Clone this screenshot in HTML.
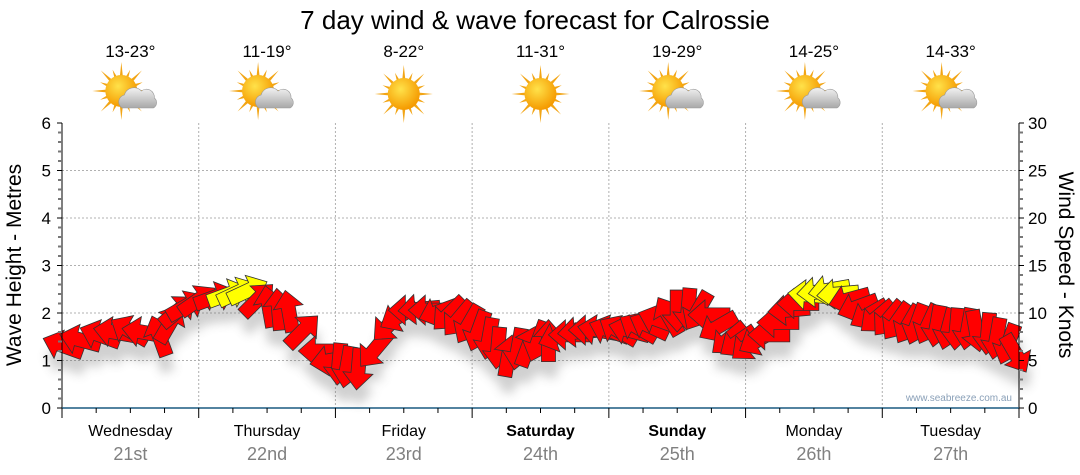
<!DOCTYPE html>
<html><head><meta charset="utf-8"><style>
body{margin:0;background:#fff;width:1080px;height:475px;overflow:hidden;font-family:"Liberation Sans","DejaVu Sans",sans-serif}
svg{display:block}
</style></head><body>
<svg id="chart" width="1080" height="475" xmlns="http://www.w3.org/2000/svg">
<defs>
<filter id="shadow" x="-50%" y="-50%" width="200%" height="200%"><feGaussianBlur stdDeviation="5"/></filter>
<radialGradient id="sunG" cx="40%" cy="35%" r="65%"><stop offset="0" stop-color="#ffe24a"/><stop offset="1" stop-color="#f59a00"/></radialGradient>
<linearGradient id="cloudG" x1="0" y1="0" x2="0" y2="1"><stop offset="0" stop-color="#f2f2f2"/><stop offset="1" stop-color="#a8a8a8"/></linearGradient>
</defs>
<text x="535" y="29" font-size="26" text-anchor="middle" fill="#000">7 day wind &amp; wave forecast for Calrossie</text>
<g id="grid"></g>
<g id="shadows" filter="url(#shadow)" opacity="0.3"></g>
<g id="arrows"></g>
<g id="axes"></g>
<g id="icons"></g>
<text x="1012" y="401" font-size="10" text-anchor="end" fill="#8aa0b8">www.seabreeze.com.au</text>
<text transform="translate(21,265) rotate(-90)" font-size="21" text-anchor="middle">Wave Height - Metres</text>
<text transform="translate(1059,265) rotate(90)" font-size="21" text-anchor="middle">Wind Speed - Knots</text>
</svg>
<script>
const dayNames=["Wednesday","Thursday","Friday","Saturday","Sunday","Monday","Tuesday"];
const dayDates=["21st","22nd","23rd","24th","25th","26th","27th"];
const dayBold=[false,false,false,true,true,false,false];
const temps=["13-23°","11-19°","8-22°","11-31°","19-29°","14-25°","14-33°"];
const cloudy=[true,true,false,false,true,true,true];
const waveTicks=[0,1,2,3,4,5,6];
const knotTicks=[0,5,10,15,20,25,30];
const windHours=[0,3,6.5,9,11.7,14,17,19,20.5,22,24,27,29.3,31,32.8,34.5,36.3,38,39.8,42.4,45,47,48.6,50,52,54.7,57.3,59,60.8,62.5,64.3,66,67.8,69.5,71.3,73,74.9,76.5,78.4,80,81.9,83.5,85.4,87,88.9,90.5,92.4,94,95.9,97.5,99.4,101,102.9,104.5,106.4,108,109.9,111.5,113.4,115,116.9,118.5,120.4,122,123.9,125.5,127.4,129,130.9,132.5,134.5,136,138,139.5,141.5,143,145,146.5,148.5,150,152,153.5,155.5,157,159,160.5,162.5,164,166,167.5];
const windSpeed=[6.6,7.2,7.7,8.0,8.2,8.0,7.7,9.0,10.3,10.8,11.4,11.7,12.0,12.2,12.4,11.5,10.8,10.5,10.3,8.2,6.0,5.0,4.5,4.2,4.0,6.0,8.7,9.6,10.3,10.4,10.3,10.1,9.8,9.3,8.7,8.0,7.2,6.2,5.6,6.1,6.6,6.9,7.2,7.5,7.7,8.0,8.2,8.2,8.2,8.2,8.2,8.5,8.7,9.3,9.8,10.1,10.3,10.1,9.8,8.5,7.2,6.9,6.6,7.1,7.7,9.0,10.3,11.0,11.9,12.2,12.4,12.0,11.4,10.6,9.8,9.5,9.3,9.0,8.7,8.7,8.7,8.5,8.2,8.2,8.2,8.0,7.7,7.2,6.6,5.6];
const windDir=[-160,-165,-160,-170,-150,-170,-110,-60,-40,-30,-35,-20,-20,-25,-25,-45,-100,-95,-100,-45,180,170,95,100,95,130,135,150,180,175,180,160,135,130,120,110,100,95,-80,100,-70,110,-90,160,180,175,180,-170,-160,-150,-165,-150,-155,-160,-120,90,95,120,180,150,140,145,140,150,180,180,175,180,185,175,170,175,165,160,150,140,130,125,120,110,115,100,105,95,100,80,95,100,110,60];

const X0=62,X1=1019,Y0=408,Y1=123;
const xs=h=>X0+(X1-X0)*h/168;
const yWave=m=>Y0-(Y0-Y1)*m/6;
const yKnot=k=>Y0-(Y0-Y1)*k/30;
const NS="http://www.w3.org/2000/svg";
function mk(tag,attrs,parent,txt){const e=document.createElementNS(NS,tag);for(const k in attrs)e.setAttribute(k,attrs[k]);if(txt!==undefined)e.textContent=txt;parent.appendChild(e);return e;}
const grid=document.getElementById('grid'),axes=document.getElementById('axes'),arrows=document.getElementById('arrows'),shadows=document.getElementById('shadows'),icons=document.getElementById('icons');

waveTicks.forEach(t=>{if(t>0&&t<6){const l=mk('line',{x1:X0,x2:X1,y1:yWave(t),y2:yWave(t),stroke:'#b0b0b0','stroke-dasharray':'2,2'},grid);

}});
for(let d=1;d<7;d++){const l=mk('line',{x1:xs(d*24),x2:xs(d*24),y1:Y1,y2:Y0,stroke:'#b0b0b0','stroke-dasharray':'2,2'},grid);

}

mk('line',{x1:X0,x2:X0,y1:Y1,y2:Y0,stroke:'#000'},axes);
mk('line',{x1:X1,x2:X1,y1:Y1,y2:Y0,stroke:'#000'},axes);
for(let i=0;i<=30;i++){const y=Y0-(Y0-Y1)*i/30;const major=i%5==0;
mk('line',{x1:X0-(major?5:4),x2:X0,y1:y,y2:y,stroke:major?'#000':'#777','stroke-width':major?1:2},axes);
mk('line',{x1:X1,x2:X1+(major?5:4),y1:y,y2:y,stroke:major?'#000':'#777','stroke-width':major?1:2},axes);}
waveTicks.forEach(t=>{const e=mk('text',{x:X0-11,y:yWave(t)+6,'font-size':17,'text-anchor':'end'},axes,t);

});
knotTicks.forEach(t=>{const e=mk('text',{x:X1+9,y:yKnot(t)+6,'font-size':17},axes,t);

});
mk('line',{x1:X0,x2:X1,y1:Y0,y2:Y0,stroke:'#1a5a80','stroke-width':1.5},axes);
for(let h=0;h<=168;h+=6){mk('line',{x1:xs(h),x2:xs(h),y1:Y0,y2:Y0+(h%24==0?10:5),stroke:'#000'},axes);}
dayNames.forEach((n,i)=>{const cx=xs(i*24+12);
const a=mk('text',{x:cx,y:436,'font-size':16,'text-anchor':'middle','font-weight':dayBold[i]?'bold':'normal'},axes,n);


const b=mk('text',{x:cx,y:460,'font-size':18,'text-anchor':'middle',fill:'#808080'},axes,dayDates[i]);


const t=mk('text',{x:cx,y:57,'font-size':17,'text-anchor':'middle'},icons,temps[i]);


const g=mk('g',{},icons);


const sx=cloudy[i]?cx-9:cx, sy=cloudy[i]?91:94;
for(let r=0;r<16;r++){const ang=r*Math.PI/8;const L=r%2?23:29;
mk('polygon',{points:`${sx+Math.cos(ang)*L},${sy+Math.sin(ang)*L} ${sx+Math.cos(ang+0.13)*13},${sy+Math.sin(ang+0.13)*13} ${sx+Math.cos(ang-0.13)*13},${sy+Math.sin(ang-0.13)*13}`,fill:'#f2a515'},g);}
mk('circle',{cx:sx,cy:sy,r:16,fill:'url(#sunG)'},g);
if(cloudy[i]){mk('path',{d:`M${cx-8},${sy+17} a7,7 0 0 1 2,-13 a10,10 0 0 1 17,-4 a8,8 0 0 1 13,7 a6,6 0 0 1 -1,10 z`,fill:'url(#cloudG)',stroke:'#999','stroke-width':0.6},g);}
});

function arrowPts(){return [[-22,-7],[3,-7],[3,-15],[20,0],[3,15],[3,7],[-22,7]].map(p=>p.join(',')).join(' ');}
windHours.forEach((h,i)=>{const x=xs(h),y=yKnot(windSpeed[i]),a=windDir[i];
mk('polygon',{points:arrowPts(),transform:`translate(${x+2},${y+16}) rotate(${a})`,fill:'#666'},shadows);
const p=mk('polygon',{points:arrowPts(),transform:`translate(${x},${y}) rotate(${a})`,fill:windSpeed[i]>=11.8?'#ffff00':'#ff0000',stroke:'#333','stroke-width':0.8},arrows);

});
</script>
</body></html>
